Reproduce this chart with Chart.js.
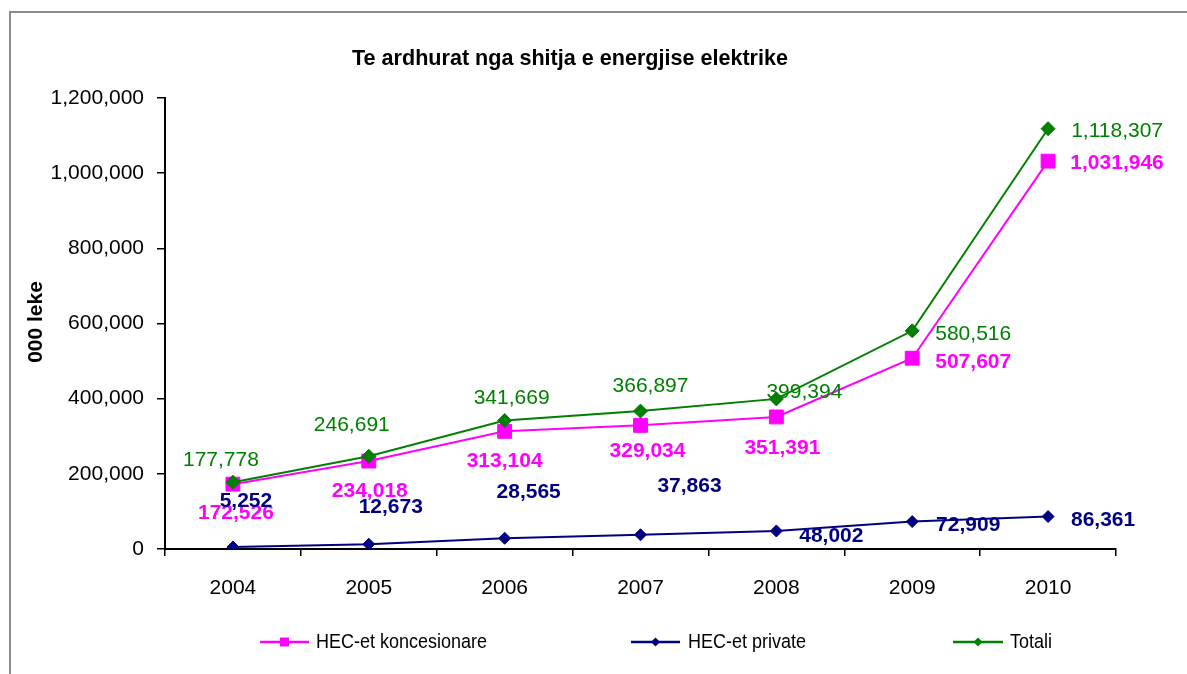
<!DOCTYPE html>
<html>
<head>
<meta charset="utf-8">
<title>Te ardhurat nga shitja e energjise elektrike</title>
<script src="https://cdn.jsdelivr.net/npm/chart.js@4.4.0/dist/chart.umd.min.js"></script>
<style>
  html, body { margin: 0; padding: 0; background: #fff; overflow: hidden; }
  #wrap { position: relative; width: 1187px; height: 674px; }
</style>
</head>
<body>
<div id="wrap"><canvas id="revenueChart" width="1187" height="674"></canvas></div>
<script>
// data (000 leke)
const years = ['2004', '2005', '2006', '2007', '2008', '2009', '2010'];
const hecKoncesionare = [172526, 234018, 313104, 329034, 351391, 507607, 1031946];
const hecPrivate = [5252, 12673, 28565, 37863, 48002, 72909, 86361];
const totali = [177778, 246691, 341669, 366897, 399394, 580516, 1118307];
const seriesNames = ['HEC-et koncesionare', 'HEC-et private', 'Totali'];
const chartTitle = 'Te ardhurat nga shitja e energjise elektrike';
const yAxisTitle = '000 leke';

// where each value label sits, in pixels from its point
const koncLabelOffsets = [[3, 27], [1, 28], [0, 28], [7, 24], [6, 30], [61, 2], [69, 0]];
const privateLabelOffsets = [[13, -48], [22, -39], [24, -48], [49, -50], [55, 4], [56, 2], [55, 2]];
const totaliLabelOffsets = [[-12, -24], [-17, -33], [7, -24], [10, -27], [28, -8], [61, 2], [69, 1]];

const FONT = '"Liberation Sans", Arial, sans-serif';
const fmt = v => Number(v).toLocaleString('en-US');

// frame, title, y title, value labels and legend
const decorPlugin = {
    id: 'decor',
    beforeDraw(chart) {
        const ctx = chart.ctx;
        ctx.save();
        ctx.fillStyle = '#fff';
        ctx.fillRect(0, 0, chart.width, chart.height);
        ctx.strokeStyle = '#8c8c8c';
        ctx.lineWidth = 2;
        ctx.strokeRect(10, 12, 1400, 900);
        ctx.restore();
    },
    afterDatasetsDraw(chart) {
        const ctx = chart.ctx;
        ctx.save();

        // title, squeezed a little like the original
        ctx.font = 'bold 22px ' + FONT;
        ctx.fillStyle = '#000';
        ctx.textAlign = 'left';
        ctx.textBaseline = 'alphabetic';
        const tw = ctx.measureText(chartTitle).width;
        ctx.save();
        ctx.translate(352, 65);
        ctx.scale(436 / tw, 1);
        ctx.fillText(chartTitle, 0, 0);
        ctx.restore();

        // y axis title
        ctx.save();
        ctx.translate(36, 322);
        ctx.rotate(-Math.PI / 2);
        ctx.font = 'bold 21px ' + FONT;
        ctx.textAlign = 'center';
        ctx.textBaseline = 'middle';
        ctx.fillText(yAxisTitle, 0, 0);
        ctx.restore();

        // value labels
        const offsets = [koncLabelOffsets, privateLabelOffsets, totaliLabelOffsets];
        const weights = ['bold', 'bold', 'normal'];
        chart.data.datasets.forEach((ds, i) => {
            const meta = chart.getDatasetMeta(i);
            ctx.font = weights[i] + ' 21px ' + FONT;
            ctx.fillStyle = ds.borderColor;
            ctx.textAlign = 'center';
            ctx.textBaseline = 'alphabetic';
            meta.data.forEach((pt, j) => {
                const off = offsets[i][j];
                ctx.fillText(fmt(ds.data[j]), pt.x + off[0], pt.y + off[1] + 7.5);
            });
        });

        // legend: line + marker + text
        const legendLines = [[260, 309, 316], [631, 680, 688], [953, 1003, 1010]];
        const ly = 642;
        chart.data.datasets.forEach((ds, i) => {
            const [x0, x1, tx] = legendLines[i];
            ctx.strokeStyle = ds.borderColor;
            ctx.fillStyle = ds.borderColor;
            ctx.lineWidth = 2.5;
            ctx.beginPath();
            ctx.moveTo(x0, ly);
            ctx.lineTo(x1, ly);
            ctx.stroke();
            const mx = (x0 + x1) / 2;
            ctx.beginPath();
            if (ds.pointStyle === 'rect') {
                ctx.rect(mx - 4.5, ly - 4.5, 9, 9);
            } else {
                ctx.moveTo(mx - 4.5, ly);
                ctx.lineTo(mx, ly - 4.5);
                ctx.lineTo(mx + 4.5, ly);
                ctx.lineTo(mx, ly + 4.5);
                ctx.closePath();
            }
            ctx.fill();
            ctx.fillStyle = '#000';
            ctx.font = '18px ' + FONT;
            ctx.textAlign = 'left';
            ctx.textBaseline = 'middle';
            ctx.save();
            ctx.translate(tx, ly);
            ctx.scale(1, 1.15);
            ctx.fillText(ds.label, 0, 0);
            ctx.restore();
        });

        ctx.restore();
    }
};

const ctx = document.getElementById('revenueChart').getContext('2d');

const revenueChart = new Chart(ctx, {
    type: 'line',
    data: {
        labels: years,
        datasets: [{
            label: seriesNames[0],
            data: hecKoncesionare,
            borderColor: '#FF00FF',
            backgroundColor: '#FF00FF',
            pointBackgroundColor: '#FF00FF',
            pointBorderColor: '#FF00FF',
            pointStyle: 'rect',
            pointRadius: 9.8,
            pointBorderWidth: 1,
            borderWidth: 2,
            order: 1
        }, {
            label: seriesNames[1],
            data: hecPrivate,
            borderColor: '#000080',
            backgroundColor: '#000080',
            pointBackgroundColor: '#000080',
            pointBorderColor: '#000080',
            pointStyle: 'rectRot',
            pointRadius: 6,
            pointBorderWidth: 1,
            borderWidth: 2,
            order: 2
        }, {
            label: seriesNames[2],
            data: totali,
            borderColor: '#008000',
            backgroundColor: '#008000',
            pointBackgroundColor: '#008000',
            pointBorderColor: '#008000',
            pointStyle: 'rectRot',
            pointRadius: 7,
            pointBorderWidth: 1,
            borderWidth: 2,
            order: 0
        }]
    },
    options: {
        responsive: false,
        animation: false,
        events: [],
        layout: { padding: { top: 98, right: 71, left: 0, bottom: 0 } },
        plugins: {
            legend: { display: false },
            title: { display: false },
            tooltip: { enabled: false }
        },
        scales: {
            x: {
                offset: true,
                grid: { offset: true, drawOnChartArea: false, tickLength: 7, color: '#000', lineWidth: 1.5 },
                border: { color: '#000', width: 2 },
                ticks: { color: '#000', font: { family: FONT, size: 21 }, padding: 20, maxRotation: 0 },
                afterFit: scale => { scale.height = 125; }
            },
            y: {
                min: 0,
                max: 1200000,
                grid: { drawOnChartArea: false, tickLength: 8, color: '#000', lineWidth: 1.5 },
                border: { color: '#000', width: 2 },
                ticks: {
                    stepSize: 200000,
                    color: '#000',
                    font: { family: FONT, size: 21 },
                    padding: 13,
                    callback: v => fmt(v)
                },
                afterFit: scale => { scale.width = 165; }
            }
        }
    },
    plugins: [decorPlugin]
});
</script>
</body>
</html>
